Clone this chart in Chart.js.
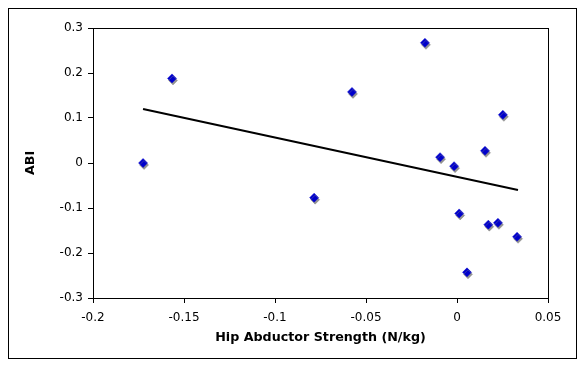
<!DOCTYPE html>
<html>
<head>
<meta charset="utf-8">
<script src="https://cdn.jsdelivr.net/npm/chart.js@4/dist/chart.umd.min.js"></script>
<style>
  html, body { margin: 0; padding: 0; background: #fff; }
  #wrap { width: 585px; height: 367px; position: relative; }
</style>
</head>
<body>
<div id="wrap"><canvas id="c" width="585" height="367"></canvas></div>
<script>
// Data
const strengthX = [-0.1725, -0.1566, -0.0785, -0.0577, -0.0176, -0.0093, -0.0016, 0.0012, 0.0055, 0.0154, 0.0172, 0.0225, 0.0252, 0.0330];
const abiY      = [ 0.000,   0.188,  -0.077,   0.158,   0.267,   0.013,  -0.007,  -0.112, -0.243,  0.027, -0.137, -0.133,  0.107, -0.164];
const trendX = [-0.1725, 0.0335];
const trendY = [0.120, -0.060];
const xTicks = [-0.2, -0.15, -0.1, -0.05, 0, 0.05];
const yTicks = [-0.3, -0.2, -0.1, 0, 0.1, 0.2, 0.3];
const xTitle = 'Hip Abductor Strength (N/kg)';
const yTitle = 'ABI';

const points = strengthX.map((x, i) => ({ x: x, y: abiY[i] }));
const trend = trendX.map((x, i) => ({ x: x, y: trendY[i] }));

const FONT = '"DejaVu Sans", Verdana, sans-serif';

const framePlugin = {
  id: 'frame',
  beforeDatasetDraw(chart, args) {
    if (args.index === 1) {
      const ctx = chart.ctx;
      ctx.save();
      ctx.shadowColor = 'rgba(128,128,128,0.85)';
      ctx.shadowOffsetX = 1;
      ctx.shadowOffsetY = 2;
      ctx.shadowBlur = 0;
    }
  },
  afterDatasetDraw(chart, args) {
    if (args.index === 1) chart.ctx.restore();
  },
  afterDraw(chart) {
    const ctx = chart.ctx;
    const a = chart.chartArea;
    ctx.save();
    ctx.strokeStyle = '#000';
    ctx.lineWidth = 1;
    ctx.strokeRect(Math.round(a.left) + 0.5, Math.round(a.top) + 0.5, Math.round(a.right - a.left), Math.round(a.bottom - a.top));
    ctx.strokeRect(8.5, 8.5, 568, 350);
    ctx.restore();
  }
};

new Chart(document.getElementById('c'), {
  type: 'scatter',
  data: {
    datasets: [
      {
        type: 'line',
        data: trend,
        borderColor: '#000',
        borderWidth: 2,
        pointRadius: 0,
        fill: false,
        tension: 0
      },
      {
        data: points,
        pointStyle: 'rectRot',
        pointRadius: 4.5,
        pointHoverRadius: 4.5,
        backgroundColor: '#0000CC',
        borderColor: '#0000CC',
        borderWidth: 0.5
      }
    ]
  },
  options: {
    responsive: false,
    animation: false,
    devicePixelRatio: 1,
    layout: { padding: { left: 0, right: 37, top: 28, bottom: 0 } },
    plugins: { legend: { display: false }, tooltip: { enabled: false } },
    scales: {
      x: {
        type: 'linear',
        min: -0.2, max: 0.05,
        afterBuildTicks: (s) => { s.ticks = xTicks.map(v => ({ value: v })); },
        afterFit: (s) => { s.height = 69; },
        ticks: {
          color: '#000',
          font: { family: FONT, size: 12 },
          padding: 8,
          maxRotation: 0,
          callback: (v) => String(Math.round(v * 1000) / 1000)
        },
        grid: { drawOnChartArea: false, drawTicks: true, tickLength: 5, color: '#000', lineWidth: 1 },
        border: { display: true, color: '#000', width: 1 },
        title: {
          display: true, text: xTitle, color: '#000',
          font: { family: FONT, size: 12.7, weight: 'bold' },
          padding: { top: 0, bottom: 22 }
        }
      },
      y: {
        type: 'linear',
        min: -0.3, max: 0.3,
        afterBuildTicks: (s) => { s.ticks = yTicks.map(v => ({ value: v })); },
        afterFit: (s) => { s.width = 93; },
        ticks: {
          color: '#000',
          font: { family: FONT, size: 12 },
          padding: 5,
          callback: (v) => String(Math.round(v * 1000) / 1000)
        },
        grid: { drawOnChartArea: false, drawTicks: true, tickLength: 5, color: '#000', lineWidth: 1 },
        border: { display: true, color: '#000', width: 1 },
        title: {
          display: true, text: yTitle, color: '#000',
          font: { family: FONT, size: 12.7, weight: 'bold' },
          padding: { top: 23, bottom: 0 }
        }
      }
    }
  },
  plugins: [framePlugin]
});
</script>
</body>
</html>
